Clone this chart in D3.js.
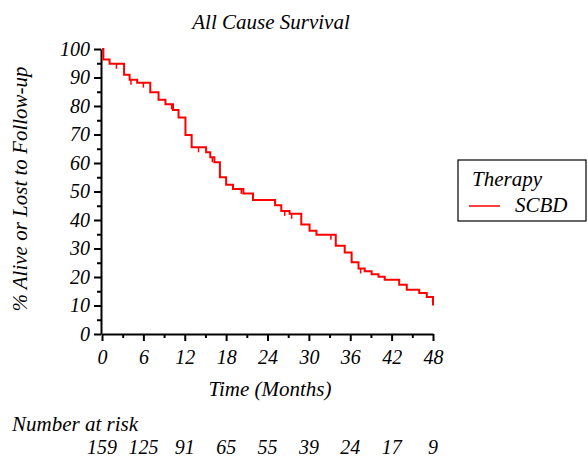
<!DOCTYPE html>
<meta charset="utf-8">
<html>
  <head>
    <title>All Cause Survival</title>
    <script src="https://d3js.org/d3.v7.min.js"></script>
    <style type="text/css">
      body{
        margin:0;
        background:#fff;
        font-family:"Liberation Serif", serif;
        font-style:italic;
      }
      .axis path, .axis line{
        fill:none;
        stroke:#000;
        stroke-width:2;
      }
      .axis text{
        font-size:20px;
        font-family:"Liberation Serif", serif;
        font-style:italic;
        fill:#000;
      }
    </style>
  </head>
  <body>
    <div id="plot"></div>
  </body>

  <script>
    // step times (months) and survival (%)
    var stepTimes = [0, 0.2, 1.1, 3.2, 4.0, 5.1, 7.0, 8.2, 9.2, 10.3, 11.1, 12.1, 13.0, 15.1, 15.7, 16.3, 17.1, 18.0, 19.0, 20.5, 21.9, 25.1, 26.0, 27.2, 28.9, 30.1, 31.1, 33.9, 35.2, 36.2, 37.2, 38.1, 39.1, 40.1, 41.0, 43.1, 44.2, 46.0, 47.1, 48.0];
    var survival  = [100, 96.3, 94.8, 91, 89.2, 88.2, 84.8, 82.2, 80.6, 78.6, 76, 69.8, 65.5, 63.8, 62, 60.3, 55, 52.4, 50.9, 49.3, 47, 45.2, 43.2, 42.2, 38.4, 36.2, 34.8, 31, 28.6, 25.2, 23, 22, 21, 20.1, 19, 17.3, 15.5, 14.4, 13, 10];
    // censored observations (months)
    var censorTimes = [2.1, 4.2, 6.0, 10.1, 14.0, 16.0, 20.2, 26.5, 27.5, 33.2, 37.5];

    var xTicks = [0, 6, 12, 18, 24, 30, 36, 42, 48];
    var xMinor = [3, 9, 15, 21, 27, 33, 39, 45];
    var yTicks = [0, 10, 20, 30, 40, 50, 60, 70, 80, 90, 100];
    var yMinor = [5, 15, 25, 35, 45, 55, 65, 75, 85, 95];
    var atRisk = [159, 125, 91, 65, 55, 39, 24, 17, 9];

    var W = 588, H = 460;
    var svg = d3.select("#plot").append("svg")
        .attr("width", W)
        .attr("height", H);

    var x = d3.scaleLinear().domain([0, 48]).range([102, 433]);
    var y = d3.scaleLinear().domain([0, 100]).range([334, 49]);

    // title
    svg.append("text")
       .attr("x", 271).attr("y", 29)
       .attr("text-anchor", "middle")
       .style("font-size", "21px")
       .text("All Cause Survival");

    // minor ticks
    svg.append("g").attr("class", "axis")
       .attr("transform", "translate(0,334)")
       .call(d3.axisBottom(x).tickValues(xMinor).tickSize(4).tickFormat(""))
       .select(".domain").remove();
    svg.append("g").attr("class", "axis")
       .attr("transform", "translate(101,0)")
       .call(d3.axisLeft(y).tickValues(yMinor).tickSize(4).tickFormat(""))
       .select(".domain").remove();

    // x axis
    var xAxis = d3.axisBottom(x).tickValues(xTicks).tickSizeInner(7).tickSizeOuter(0).tickPadding(9);
    svg.append("g")
       .attr("class", "x axis")
       .attr("transform", "translate(0,334)")
       .call(xAxis);

    // y axis
    var yAxis = d3.axisLeft(y).tickValues(yTicks).tickSizeInner(7).tickSizeOuter(0).tickPadding(4);
    svg.append("g")
       .attr("class", "y axis")
       .attr("transform", "translate(101,0)")
       .call(yAxis);

    svg.append("text")
       .attr("x", 270).attr("y", 396)
       .attr("text-anchor", "middle")
       .style("font-size", "21px")
       .text("Time (Months)");

    svg.append("text")
       .attr("transform", "translate(27," + 189 + ") rotate(-90)")
       .attr("text-anchor", "middle")
       .style("font-size", "21px")
       .text("% Alive or Lost to Follow-up");

    // survival curve
    var pts = stepTimes.map(function(t, i){ return [t, survival[i]]; });
    var line = d3.line()
        .x(function(d){ return x(d[0]); })
        .y(function(d){ return y(d[1]); })
        .curve(d3.curveStepAfter);
    svg.append("path")
       .datum(pts)
       .attr("d", line)
       .style("fill", "none")
       .style("stroke", "#ff0000")
       .style("stroke-width", 2);

    // censor marks
    function survAt(t){
      var v = survival[0];
      for (var i = 0; i < stepTimes.length; i++){ if (stepTimes[i] <= t) v = survival[i]; }
      return v;
    }
    svg.selectAll(".censor")
       .data(censorTimes)
       .enter().append("line")
       .attr("class", "censor")
       .attr("x1", function(d){ return x(d); })
       .attr("x2", function(d){ return x(d); })
       .attr("y1", function(d){ return y(survAt(d)); })
       .attr("y2", function(d){ return y(survAt(d)) + 5; })
       .style("stroke", "#ff0000")
       .style("stroke-width", 1.5);

    // number at risk
    svg.append("text")
       .attr("x", 12).attr("y", 431)
       .style("font-size", "21px")
       .text("Number at risk");
    svg.selectAll(".risk")
       .data(atRisk)
       .enter().append("text")
       .attr("class", "risk")
       .attr("x", function(d, i){ return x(xTicks[i]); })
       .attr("y", 454)
       .attr("text-anchor", "middle")
       .style("font-size", "20px")
       .text(function(d){ return d; });

    // legend
    var lg = svg.append("g");
    lg.append("rect")
      .attr("x", 458).attr("y", 160)
      .attr("width", 128).attr("height", 61)
      .style("fill", "#fff")
      .style("stroke", "#000")
      .style("stroke-width", 1.2);
    lg.append("text")
      .attr("x", 472).attr("y", 186)
      .style("font-size", "21px")
      .text("Therapy");
    lg.append("line")
      .attr("x1", 469).attr("x2", 500)
      .attr("y1", 206).attr("y2", 206)
      .style("stroke", "#ff0000")
      .style("stroke-width", 1.5);
    lg.append("text")
      .attr("x", 515).attr("y", 212)
      .style("font-size", "21px")
      .text("SCBD");
  </script>
</html>
